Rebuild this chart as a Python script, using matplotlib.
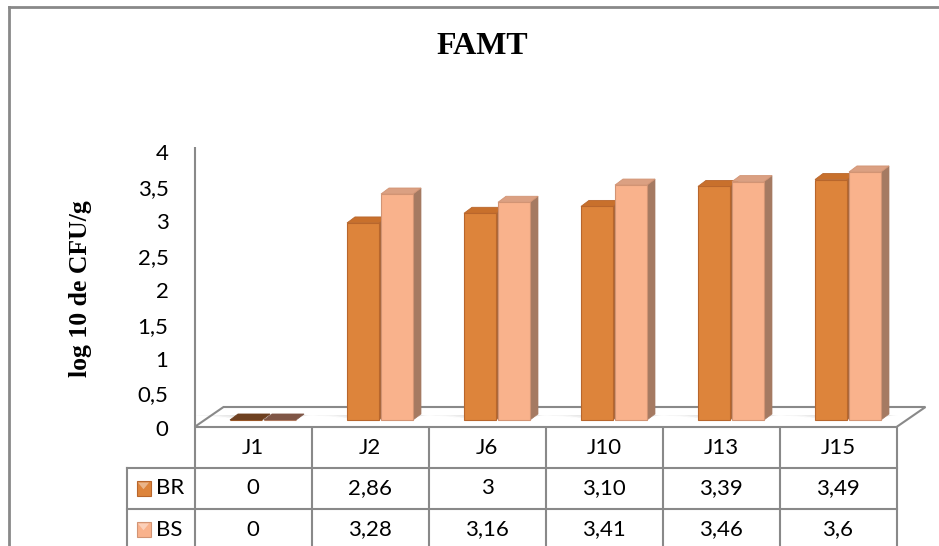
import matplotlib.pyplot as plt
from matplotlib.lines import Line2D
from matplotlib.patches import Polygon, Rectangle

TITLE = "FAMT"
Y_LABEL = "log 10 de CFU/g"
DAYS = ["J1", "J2", "J6", "J10", "J13", "J15"]
SERIES = ["BR", "BS"]
BR_LABELS = ["0", "2,86", "3", "3,10", "3,39", "3,49"]
BS_LABELS = ["0", "3,28", "3,16", "3,41", "3,46", "3,6"]
Y_TICKS = [0, 0.5, 1, 1.5, 2, 2.5, 3, 3.5, 4]


def to_float(text):
    return float(text.replace(",", "."))


def tick_text(value):
    return f"{value:g}".replace(".", ",")


br_values = [to_float(s) for s in BR_LABELS]
bs_values = [to_float(s) for s in BS_LABELS]

# colours: front, side, top, top when the bar is flat, outline
STYLES = {
    "BR": dict(front="#dd843b", side="#a8683c", top="#c8702c", flat="#6e4020", edge="#b8662c"),
    "BS": dict(front="#f9b28c", side="#a57a62", top="#dba082", flat="#7f5646", edge="#d29474"),
}
GRID = "#898989"
FS = 16

W, H = 939, 546
PX_X = 117.0   # pixels per category slot
PX_Y = 68.9    # pixels per log unit
X0, Y0 = 263.0, 420.0   # pixel position of first category centre / zero line (bar plane)

fig = plt.figure(figsize=(W / 100, H / 100), dpi=100)
ax = fig.add_axes([0, 0, 1, 1])
ax.set_xlim(-X0 / PX_X, (W - X0) / PX_X)
ax.set_ylim((Y0 - H) / PX_Y, Y0 / PX_Y)
ax.axis("off")


def px(dx, dy):
    """Pixel offset (right, down) -> data offset."""
    return dx / PX_X, -dy / PX_Y


# the bars sit half way back on the floor; the front plane is shifted left/down
fx, fy = px(-10, 7)
deep_x, deep_y = px(29, -20)
bar_dx, bar_dy = px(8, -6)
n = len(DAYS)

# floor
front_l = (-0.5 + fx, fy)
front_r = (n - 0.5 + fx, fy)
floor = Polygon([front_l, front_r, (front_r[0] + deep_x, fy + deep_y), (front_l[0] + deep_x, fy + deep_y)],
                closed=True, facecolor="white", edgecolor=GRID, linewidth=1.5, zorder=1)
ax.add_patch(floor)

# value axis line on the front-left edge
ax.plot([front_l[0], front_l[0]], [fy, fy + 4 + 0.06], color=GRID, linewidth=1.5, zorder=2,
        solid_capstyle="butt")

bar_w = 32 / PX_X
offsets = [-17 / PX_X, 17 / PX_X]

# soft shadows on the floor around each bar pair
for i in range(n):
    left = i + offsets[0] - bar_w / 2
    right = i + offsets[1] + bar_w / 2
    for k in range(6):
        gx, gy = px(3 + 4 * k, 2 + 0.6 * k)
        shade = Polygon([(left - gx * 1.6, -gy), (right + gx * 0.4, -gy),
                         (right + bar_dx + gx * 0.4, bar_dy + gy * 0.4),
                         (left + bar_dx - gx * 1.6, bar_dy + gy * 0.4)],
                        closed=True, facecolor="#9a9a9a", edgecolor="none", alpha=0.07, zorder=2)
        ax.add_patch(shade)

for name, values, off in zip(SERIES, [br_values, bs_values], offsets):
    st = STYLES[name]
    xs = [i + off for i in range(n)]
    ax.bar(xs, values, width=bar_w, color=st["front"], edgecolor=st["edge"], linewidth=0.8, zorder=4)
    for x, v in zip(xs, values):
        left, right = x - bar_w / 2, x + bar_w / 2
        if v > 0:
            side = Polygon([(right, 0), (right + bar_dx, bar_dy), (right + bar_dx, v + bar_dy), (right, v)],
                           closed=True, facecolor=st["side"], edgecolor=st["side"], linewidth=0.5, zorder=3)
            ax.add_patch(side)
        top = Polygon([(left, v), (left + bar_dx, v + bar_dy), (right + bar_dx, v + bar_dy), (right, v)],
                      closed=True, facecolor=st["top"] if v > 0 else st["flat"],
                      edgecolor=st["edge"] if v > 0 else st["flat"], linewidth=0.6, zorder=4)
        ax.add_patch(top)

# y tick labels
sx, _ = px(-26, 0)
_, ty = px(0, 3)
for t in Y_TICKS:
    ax.text(front_l[0] + sx, t + fy + ty, tick_text(t), ha="right", va="center",
            fontsize=FS, family="Lato", color="black")

# data table under the plot
row_h = 41 / PX_Y
legend_w = 68 / PX_X
bottom = (Y0 - H) / PX_Y - 0.1
for k in range(n + 1):
    xk = -0.5 + k + fx
    ax.plot([xk, xk], [fy, bottom], color=GRID, linewidth=1.5, zorder=5, solid_capstyle="butt")
ax.plot([front_l[0] - legend_w] * 2, [fy - row_h, bottom], color=GRID, linewidth=1.5, zorder=5)
for r in (1, 2):
    ax.plot([front_l[0] - legend_w, front_r[0]], [fy - r * row_h] * 2, color=GRID, linewidth=1.5, zorder=5)

for i, day in enumerate(DAYS):
    ax.text(i + fx, fy - 0.5 * row_h, day, ha="center", va="center", fontsize=FS, family="Lato")
for r, (labels, name) in enumerate(zip([BR_LABELS, BS_LABELS], SERIES), start=1):
    yc = fy - (r + 0.5) * row_h
    for i, lab in enumerate(labels):
        ax.text(i + fx, yc, lab, ha="center", va="center", fontsize=FS, family="Lato")
    st = STYLES[name]
    mx = front_l[0] - legend_w + 10 / PX_X
    mw, mh = 14 / PX_X, 15 / PX_Y
    ax.add_patch(Rectangle((mx, yc - mh / 2), mw, mh, facecolor=st["front"], edgecolor=st["edge"],
                           linewidth=0.8, zorder=6))
    ax.add_patch(Polygon([(mx + 0.1 * mw, yc + mh * 0.4), (mx + 0.9 * mw, yc + mh * 0.4),
                          (mx + 0.5 * mw, yc - mh * 0.05)], closed=True,
                         facecolor="#ffffff", alpha=0.4, edgecolor="none", zorder=7))
    ax.text(mx + mw + 5 / PX_X, yc, name, ha="left", va="center", fontsize=FS, family="Lato")

# outer chart frame (top and left edges)
fig.add_artist(Line2D([9 / W, 1], [1 - 7 / H, 1 - 7 / H], color=GRID, linewidth=2))
fig.add_artist(Line2D([9 / W, 9 / W], [0, 1 - 7 / H], color=GRID, linewidth=2))

fig.text(482 / W, 1 - 47 / H, TITLE, ha="center", va="center", fontsize=23,
         family="Liberation Serif", fontweight="bold")
fig.text(80 / W, 1 - 289 / H, Y_LABEL, ha="center", va="center", rotation=90, fontsize=18.5,
         family="Liberation Serif", fontweight="bold")

fig.savefig("out.png", dpi=100, facecolor="white")
